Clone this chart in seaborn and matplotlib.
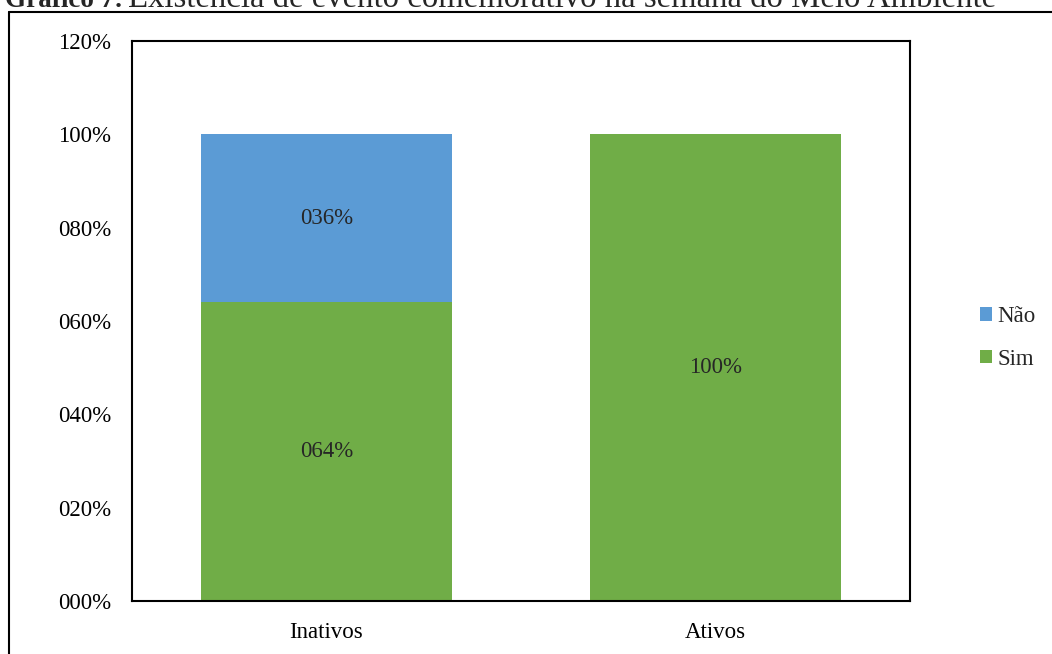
import matplotlib
matplotlib.use('Agg')
import matplotlib.pyplot as plt
import seaborn as sns
import pandas as pd
from matplotlib.patches import Patch
from matplotlib.lines import Line2D

categories = ['Inativos', 'Ativos']
sim = [64, 100]
nao = [36, 0]
yticks = [0, 20, 40, 60, 80, 100, 120]

sns.set_style('white')
plt.rcParams['font.family'] = ['Liberation Serif', 'DejaVu Serif']

blue = '#5B9BD5'
green = '#70AD47'
fs = 16.5

df = pd.DataFrame({'grupo': categories, 'sim': sim, 'nao': nao})
df['total'] = df['sim'] + df['nao']

W, H = 1052, 654
fig = plt.figure(figsize=(W / 100, H / 100), dpi=100)
ax = fig.add_axes([132 / W, 1 - 601 / H, (910 - 132) / W, (601 - 41) / H])

# total em azul por baixo, "Sim" em verde por cima -> barra empilhada
sns.barplot(data=df, x='grupo', y='total', color=blue, width=0.643, ax=ax,
            saturation=1, linewidth=0)
sns.barplot(data=df, x='grupo', y='sim', color=green, width=0.643, ax=ax,
            saturation=1, linewidth=0)

ax.set_xlim(-0.5, 1.5)
ax.set_ylim(0, 120)
ax.set_yticks(yticks)
ax.set_yticklabels([f'{v:03d}%' for v in yticks])
ax.set_xlabel('')
ax.set_ylabel('')
ax.tick_params(axis='both', length=0, labelsize=fs, colors='black')
ax.tick_params(axis='y', pad=15)
ax.tick_params(axis='x', pad=15)
for s in ax.spines.values():
    s.set_visible(True)
    s.set_color('black')
    s.set_linewidth(1.5)

for i in range(len(categories)):
    ax.text(i, sim[i] / 2, f'{sim[i]:03d}%', ha='center', va='center', fontsize=fs)
    if nao[i] > 0:
        ax.text(i, sim[i] + nao[i] / 2, f'{nao[i]:03d}%', ha='center', va='center', fontsize=fs)

handles = [Patch(facecolor=blue, edgecolor='none', label='Não'),
           Patch(facecolor=green, edgecolor='none', label='Sim')]
fig.legend(handles=handles, loc='center left', bbox_to_anchor=(980 / W, 1 - 338 / H),
           frameon=False, fontsize=fs, handlelength=0.52, handleheight=0.52,
           handletextpad=0.25, labelspacing=0.95, borderpad=0, borderaxespad=0)

# moldura externa
fig.add_artist(Line2D([8.5 / W, 8.5 / W], [0, 1 - 11.5 / H], transform=fig.transFigure,
                      color='black', linewidth=1.5))
fig.add_artist(Line2D([8.5 / W, 1], [1 - 11.5 / H, 1 - 11.5 / H], transform=fig.transFigure,
                      color='black', linewidth=1.5))

# titulo (cortado no topo, como na imagem original)
t1 = fig.text(5 / W, 1 - 7 / H, 'Gráfico 7:', fontsize=19.5, fontweight='bold', va='baseline')
fig.canvas.draw()
bb = t1.get_window_extent()
fig.text((bb.x1 + 5) / W, 1 - 7 / H,
         'Existência de evento comemorativo na semana do Meio Ambiente', fontsize=23.6, va='baseline')

fig.savefig('out.png', dpi=100)
